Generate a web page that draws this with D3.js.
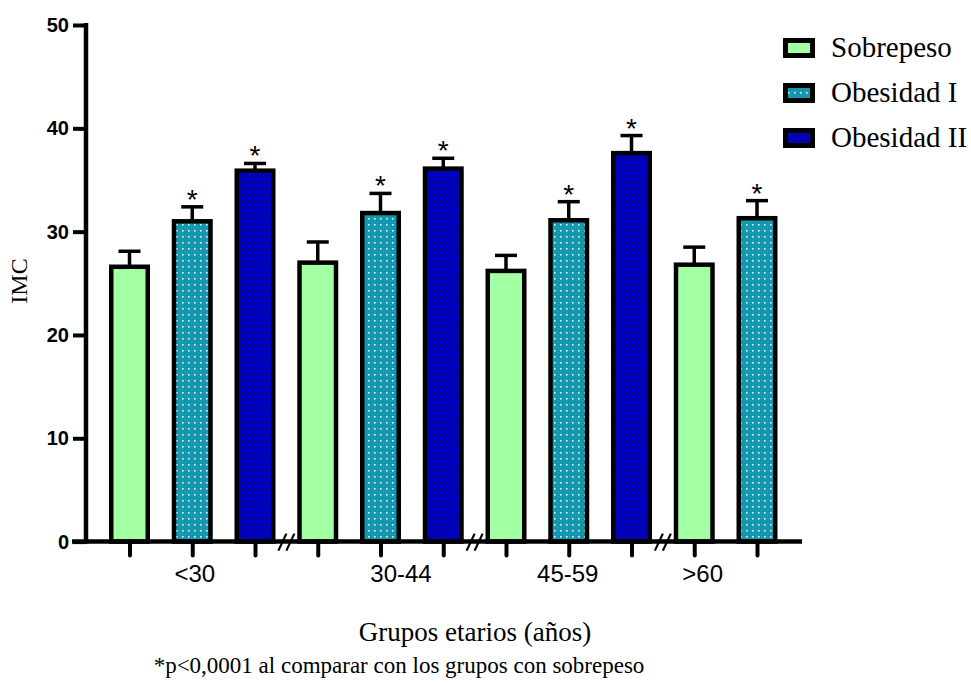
<!DOCTYPE html>
<html>
<head>
<meta charset="utf-8">
<script src="https://cdn.jsdelivr.net/npm/d3@7"></script>
<style>
  html, body { margin: 0; padding: 0; background: #fff; }
  svg { display: block; }
</style>
</head>
<body>
<svg id="chart" width="971" height="684"></svg>
<script>
// ---------- data ----------
const groups = ["<30", "30-44", "45-59", ">60"];
const seriesNames = ["Sobrepeso", "Obesidad I", "Obesidad II"];
const sobrepesoMean = [26.6, 27.0, 26.2, 26.8];
const sobrepesoErr = [1.5, 2.0, 1.5, 1.7];
const obesidad1Mean = [31.0, 31.8, 31.1, 31.3];
const obesidad1Err = [1.4, 1.9, 1.8, 1.7];
const obesidad2Mean = [35.9, 36.1, 37.6, null];
const obesidad2Err = [0.7, 1.0, 1.7, null];
const significant = [
  [false, true, true],
  [false, true, true],
  [false, true, true],
  [false, true, false]
];
const yTicks = [0, 10, 20, 30, 40, 50];
const xTitle = "Grupos etarios (años)";
const yTitle = "IMC";
const footnote = "*p<0,0001 al comparar con los grupos con sobrepeso";

// ---------- layout / style ----------
const fills = ["#a3ffa3", "url(#patTeal)", "url(#patBlue)"];
const labelNudge = [2.5, 20.5, -1, -23];
const barW = 36.5;
const SANS = "Liberation Sans, Arial, sans-serif";
const SERIF = "Liberation Serif, Times New Roman, serif";

const svg = d3.select("#chart");
const defs = svg.append("defs");

function dotPattern(id, bg, dot) {
  const p = defs.append("pattern").attr("id", id)
    .attr("patternUnits", "userSpaceOnUse")
    .attr("width", 6).attr("height", 6);
  p.append("rect").attr("width", 6).attr("height", 6).attr("fill", bg);
  p.append("rect").attr("x", 2).attr("y", 2).attr("width", 1.6).attr("height", 1.6).attr("fill", dot);
}
dotPattern("patTeal", "#1398b0", "#e6eef0");
dotPattern("patBlue", "#0000c4", "#101040");

// build rows
const means = [sobrepesoMean, obesidad1Mean, obesidad2Mean];
const errs = [sobrepesoErr, obesidad1Err, obesidad2Err];
const rows = [];
groups.forEach((g, gi) => {
  seriesNames.forEach((s, si) => {
    const v = means[si][gi];
    if (v !== null && v !== undefined) {
      rows.push({ key: g + "|" + s, group: g, gi, si, value: v, err: errs[si][gi], sig: significant[gi][si] });
    }
  });
});

const x = d3.scalePoint().domain(rows.map(d => d.key)).range([129.5, 757]);
const y = d3.scaleLinear().domain([0, 50]).range([541.6, 25]);

// bars
const bars = svg.append("g");
bars.selectAll("rect").data(rows).join("rect")
  .attr("x", d => x(d.key) - barW / 2)
  .attr("y", d => y(d.value))
  .attr("width", barW)
  .attr("height", d => y(0) - y(d.value))
  .attr("fill", d => fills[d.si])
  .attr("stroke", "#000")
  .attr("stroke-width", 4.5);

// error bars
const eb = svg.append("g").attr("stroke", "#000");
eb.selectAll("line.v").data(rows).join("line").attr("class", "v")
  .attr("x1", d => x(d.key)).attr("x2", d => x(d.key))
  .attr("y1", d => y(d.value)).attr("y2", d => y(d.value + d.err))
  .attr("stroke-width", 3.5);
eb.selectAll("line.c").data(rows).join("line").attr("class", "c")
  .attr("x1", d => x(d.key) - 11).attr("x2", d => x(d.key) + 11)
  .attr("y1", d => y(d.value + d.err)).attr("y2", d => y(d.value + d.err))
  .attr("stroke-width", 3.5);

// asterisks
svg.append("g").selectAll("text").data(rows.filter(d => d.sig)).join("text")
  .attr("x", d => x(d.key))
  .attr("y", d => y(d.value + d.err) + 2)
  .attr("text-anchor", "middle")
  .attr("font-family", SANS)
  .attr("font-size", 28)
  .text("*");

// y axis
const yAxis = svg.append("g").attr("transform", "translate(86,0)")
  .call(d3.axisLeft(y).tickValues(yTicks).tickSize(13).tickPadding(4));
yAxis.select(".domain").remove();
yAxis.selectAll(".tick line").attr("stroke", "#000").attr("stroke-width", 4);
yAxis.selectAll(".tick text")
  .attr("font-family", SANS)
  .attr("font-weight", "bold").attr("font-size", 20).attr("fill", "#000");
svg.append("line").attr("x1", 86).attr("x2", 86)
  .attr("y1", y(50) - 2).attr("y2", y(0) + 2)
  .attr("stroke", "#000").attr("stroke-width", 4.5);

// x axis
const xAxisG = svg.append("g").attr("transform", `translate(0,${y(0)})`)
  .call(d3.axisBottom(x).tickSize(14).tickFormat(""));
xAxisG.select(".domain").remove();
xAxisG.selectAll(".tick line").attr("stroke", "#000").attr("stroke-width", 4)
  .attr("stroke-linecap", "round");
svg.append("line").attr("x1", 72).attr("x2", 802)
  .attr("y1", y(0)).attr("y2", y(0))
  .attr("stroke", "#000").attr("stroke-width", 4.5);

// axis breaks "//" between groups
const breaks = [];
for (let gi = 0; gi < groups.length - 1; gi++) {
  const lastA = rows.filter(d => d.gi === gi).slice(-1)[0];
  const firstB = rows.filter(d => d.gi === gi + 1)[0];
  breaks.push((x(lastA.key) + x(firstB.key)) / 2);
}
const br = svg.append("g").attr("stroke", "#000").attr("stroke-width", 2.2);
breaks.forEach(bx => {
  [-4, 4].forEach(off => {
    br.append("line")
      .attr("x1", bx + off - 4).attr("y1", y(0) + 9)
      .attr("x2", bx + off + 4).attr("y2", y(0) - 8);
  });
});

// group labels
svg.append("g").selectAll("text").data(groups).join("text")
  .attr("x", (g, gi) => {
    const r = rows.filter(d => d.gi === gi);
    return d3.mean(r, d => x(d.key)) + labelNudge[gi];
  })
  .attr("y", 582)
  .attr("text-anchor", "middle")
  .attr("font-family", SANS)
  .attr("font-size", 24)
  .text(d => d);

// titles
svg.append("text").attr("x", 475).attr("y", 641)
  .attr("text-anchor", "middle")
  .attr("font-family", SERIF)
  .attr("font-size", 27).text(xTitle);
svg.append("text").attr("transform", "translate(27,281) rotate(-90)")
  .attr("text-anchor", "middle")
  .attr("font-family", SERIF)
  .attr("font-size", 24).text(yTitle);
svg.append("text").attr("x", 399).attr("y", 673)
  .attr("text-anchor", "middle")
  .attr("font-family", SERIF)
  .attr("font-size", 23).text(footnote);

// legend
const lg = svg.append("g");
seriesNames.forEach((s, i) => {
  const cy = 48 + i * 45;
  lg.append("rect").attr("x", 785.5).attr("y", cy - 7.5)
    .attr("width", 27).attr("height", 15)
    .attr("fill", fills[i]).attr("stroke", "#000").attr("stroke-width", 5);
  lg.append("text").attr("x", 831).attr("y", cy + 9)
    .attr("font-family", SERIF)
    .attr("font-size", 29).text(s);
});
</script>
</body>
</html>
